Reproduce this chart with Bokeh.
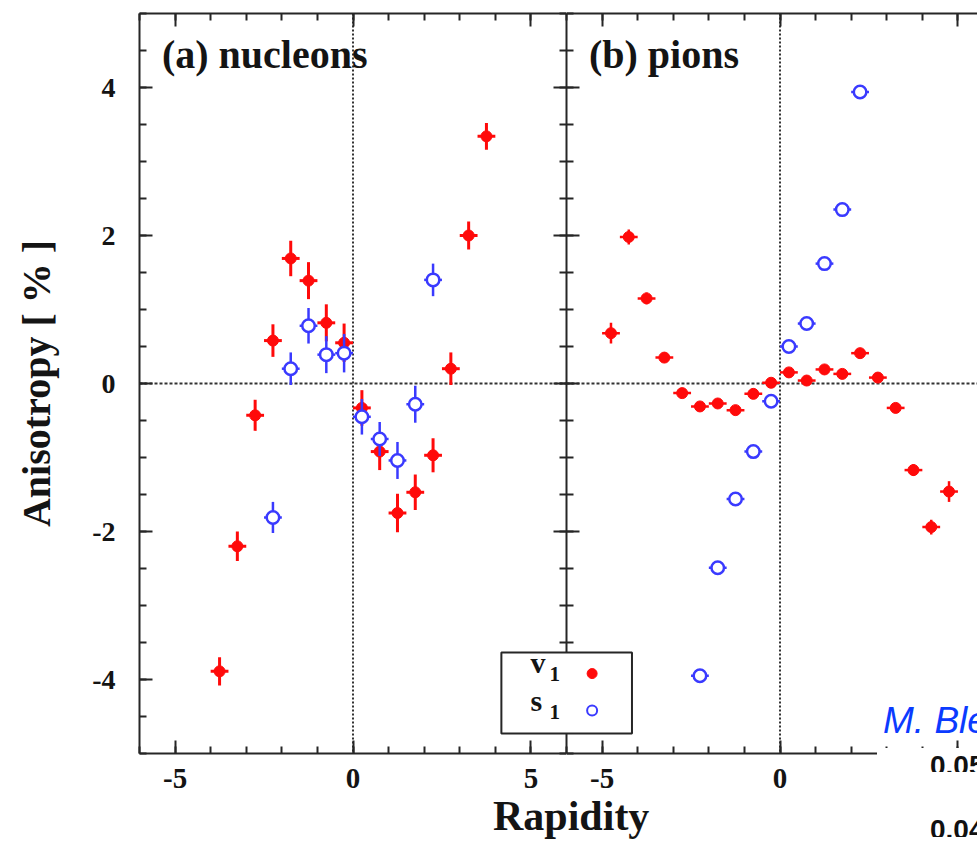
import numpy as np
from bokeh.plotting import figure
from bokeh.layouts import row, column
from bokeh.models import Range1d, LinearAxis, SingleIntervalTicker, Label, Span, Div
from bokeh.embed import file_html
from bokeh.resources import INLINE

# ---------------- data ----------------
nucleon_v1_rapidity = [-3.75, -3.25, -2.75, -2.25, -1.75, -1.25, -0.75, -0.25,
                       0.25, 0.75, 1.25, 1.75, 2.25, 2.75, 3.25, 3.75]
nucleon_v1 = [-3.89, -2.20, -0.43, 0.58, 1.69, 1.39, 0.82, 0.55,
              -0.33, -0.92, -1.75, -1.47, -0.97, 0.20, 2.00, 3.34]
nucleon_v1_err = [0.19, 0.20, 0.21, 0.22, 0.24, 0.25, 0.25, 0.26,
                  0.24, 0.25, 0.26, 0.24, 0.23, 0.22, 0.19, 0.18]

nucleon_s1_rapidity = [-2.25, -1.75, -1.25, -0.75, -0.25, 0.25, 0.75, 1.25, 1.75, 2.25]
nucleon_s1 = [-1.81, 0.20, 0.78, 0.39, 0.41, -0.45, -0.75, -1.04, -0.28, 1.40]
nucleon_s1_err = [0.21, 0.22, 0.24, 0.25, 0.26, 0.24, 0.23, 0.25, 0.25, 0.22]

pion_v1_rapidity = [-4.75, -4.25, -3.75, -3.25, -2.75, -2.25, -1.75, -1.25, -0.75, -0.25,
                    0.25, 0.75, 1.25, 1.75, 2.25, 2.75, 3.25, 3.75, 4.25, 4.75]
pion_v1 = [0.68, 1.98, 1.15, 0.35, -0.13, -0.31, -0.27, -0.36, -0.14, 0.01,
           0.15, 0.04, 0.19, 0.13, 0.41, 0.08, -0.33, -1.17, -1.94, -1.46]
pion_v1_err = [0.14, 0.10, 0.08, 0.06, 0.05, 0.05, 0.05, 0.05, 0.05, 0.05,
               0.05, 0.05, 0.05, 0.05, 0.05, 0.05, 0.06, 0.08, 0.10, 0.14]

pion_s1_rapidity = [-2.25, -1.75, -1.25, -0.75, -0.25, 0.25, 0.75, 1.25, 1.75, 2.25]
pion_s1 = [-3.95, -2.49, -1.56, -0.92, -0.24, 0.50, 0.81, 1.62, 2.35, 3.94]
pion_s1_err = [0.05, 0.05, 0.05, 0.05, 0.05, 0.05, 0.05, 0.05, 0.05, 0.05]

rapidity_bin_half_width = 0.25

x_tick_labels = {-5: "-5", 0: "0", 5: "5"}
y_tick_labels = {-4: "-4", -2: "-2", 0: "0", 2: "2", 4: "4"}

panel_titles = ["(a) nucleons", "(b) pions"]
legend_names = ["v", "s"]
y_axis_title = "Anisotropy [ % ]"
x_axis_title = "Rapidity"
slide_fragments = ["M. Ble", "0.05", "0.04"]

# ---------------- styling ----------------
RED = "#ff0a0a"
BLUE = "#3a3aff"
AX = "#262626"
TXT = "#141414"
SERIF = "Liberation Serif"


def style_axis(ax, show_labels, size="28px"):
    ax.axis_line_color = AX
    ax.axis_line_width = 2
    ax.major_tick_in = 13
    ax.major_tick_out = 0
    ax.minor_tick_in = 7
    ax.minor_tick_out = 0
    ax.major_tick_line_color = AX
    ax.major_tick_line_width = 2
    ax.minor_tick_line_color = AX
    ax.minor_tick_line_width = 2
    if show_labels:
        ax.major_label_text_font = SERIF
        ax.major_label_text_font_style = "bold"
        ax.major_label_text_font_size = size
        ax.major_label_text_color = TXT
    else:
        ax.major_label_text_font_size = "0px"
        ax.major_label_text_color = None
        ax.major_label_standoff = 0


def xticker():
    return SingleIntervalTicker(interval=5, num_minor_ticks=5)


def yticker():
    return SingleIntervalTicker(interval=2, num_minor_ticks=4)


def add_points(p, x, y, err, color, filled, bar_width):
    x = np.asarray(x, float)
    y = np.asarray(y, float)
    e = np.asarray(err, float)
    h = rapidity_bin_half_width
    p.segment(x0=x, y0=y - e, x1=x, y1=y + e, line_color=color, line_width=bar_width)
    p.segment(x0=x - h, y0=y, x1=x + h, y1=y, line_color=color, line_width=bar_width)
    if filled:
        p.scatter(x=x, y=y, size=11, marker="circle", fill_color=color, line_color=color)
    else:
        p.scatter(x=x, y=y, size=12.5, marker="circle", fill_color="white",
                  line_color=color, line_width=2.5)


def zero_lines(p):
    p.add_layout(Span(location=0, dimension="width", line_color="#333333",
                      line_width=2, line_dash="3 2", level="underlay"))
    p.add_layout(Span(location=0, dimension="height", line_color="#333333",
                      line_width=2, line_dash="2 2", level="underlay"))


def title_label(text):
    return Label(x=-5.37, y=4.45, text=text, text_font=SERIF, text_font_style="bold",
                 text_font_size="40px", text_color=TXT, text_baseline="alphabetic")


# ---------------- left panel: nucleons ----------------
p1 = figure(frame_width=427, frame_height=740,
            x_range=Range1d(-6, 6), y_range=Range1d(-5, 5),
            output_backend="svg", toolbar_location=None,
            min_border_left=139, min_border_right=0, min_border_top=13, min_border_bottom=47)
p1.outline_line_color = None
p1.grid.visible = False

p1.xaxis[0].ticker = xticker()
p1.yaxis[0].ticker = yticker()
style_axis(p1.xaxis[0], True, "29px")
style_axis(p1.yaxis[0], True, "28px")
p1.xaxis[0].major_label_overrides = x_tick_labels
p1.yaxis[0].major_label_overrides = y_tick_labels
p1.xaxis[0].major_label_standoff = 15
p1.yaxis[0].major_label_standoff = 24
p1.yaxis[0].axis_label = y_axis_title
p1.yaxis[0].axis_label_text_font = SERIF
p1.yaxis[0].axis_label_text_font_style = "bold"
p1.yaxis[0].axis_label_text_font_size = "40px"
p1.yaxis[0].axis_label_text_color = TXT
p1.yaxis[0].axis_label_standoff = 30

top1 = LinearAxis(ticker=xticker())
style_axis(top1, False)
p1.add_layout(top1, "above")
right1 = LinearAxis(ticker=yticker())
style_axis(right1, False)
p1.add_layout(right1, "right")

zero_lines(p1)
add_points(p1, nucleon_v1_rapidity, nucleon_v1, nucleon_v1_err, RED, True, 3)
add_points(p1, nucleon_s1_rapidity, nucleon_s1, nucleon_s1_err, BLUE, False, 2.5)
p1.add_layout(title_label(panel_titles[0]))

# legend (its box straddles the two panels)
p1.quad(left=[4.17], right=[7.5], top=[-3.635], bottom=[-4.73], fill_color="white",
        line_color=AX, line_width=2, level="annotation")
for name, yb in zip(legend_names, [-3.77, -4.28]):
    p1.add_layout(Label(x=4.99, y=yb, text=name, text_font=SERIF, text_font_style="bold",
                        text_font_size="30px", text_color=TXT, text_baseline="alphabetic",
                        level="overlay"))
    p1.add_layout(Label(x=5.52, y=yb - 0.16, text="1", text_font=SERIF, text_font_style="bold",
                        text_font_size="21px", text_color=TXT, text_baseline="alphabetic",
                        level="overlay"))

# ---------------- right panel: pions ----------------
p2 = figure(frame_width=411, frame_height=740,
            x_range=Range1d(-6, 5.55), y_range=Range1d(-5, 5),
            output_backend="svg", toolbar_location=None,
            min_border_left=0, min_border_right=0, min_border_top=13, min_border_bottom=47)
p2.outline_line_color = None
p2.grid.visible = False

p2.xaxis[0].ticker = xticker()
p2.yaxis[0].ticker = yticker()
style_axis(p2.xaxis[0], True, "29px")
p2.xaxis[0].major_label_overrides = x_tick_labels
p2.xaxis[0].major_label_standoff = 15
style_axis(p2.yaxis[0], False)

top2 = LinearAxis(ticker=xticker())
style_axis(top2, False)
p2.add_layout(top2, "above")

zero_lines(p2)
add_points(p2, pion_v1_rapidity, pion_v1, pion_v1_err, RED, True, 2.5)
add_points(p2, pion_s1_rapidity, pion_s1, pion_s1_err, BLUE, False, 2.5)
p2.add_layout(title_label(panel_titles[1]))

p2.quad(left=[-7.5], right=[-4.16], top=[-3.635], bottom=[-4.73], fill_color="white",
        line_color=AX, line_width=2, level="annotation")
p2.scatter(x=[-5.28], y=[-3.92], size=10, marker="circle", fill_color=RED,
           line_color=RED, level="overlay")
p2.scatter(x=[-5.28], y=[-4.42], size=10, marker="circle", fill_color="white",
           line_color=BLUE, line_width=2, level="overlay")

# fragment of an overlapping slide at the right edge
p2.add_layout(Label(x=2.895, y=-4.55, text=slide_fragments[0], text_font="Liberation Sans",
                    text_font_style="italic", text_font_size="37px", text_color="#0b3bff",
                    text_baseline="alphabetic"))

# ---------------- bottom strip: shared x title + slide fragments ----------------
strip = Div(width=977, height=41, margin=(0, 0, 0, 0), text=(
    '<div style="position:relative;width:977px;height:41px;">'
    '<div style="position:absolute;left:877px;top:-52px;width:100px;height:52px;'
    'background:#ffffff;"></div>'
    '<span style="position:absolute;left:930px;top:-54px;width:47px;height:26px;'
    "overflow:hidden;white-space:nowrap;font-family:'Liberation Sans';font-weight:bold;"
    'font-size:28px;color:#111111;">' + slide_fragments[1] + '</span>'
    '<span style="position:absolute;left:493px;top:-4px;white-space:nowrap;'
    "font-family:'Liberation Serif';font-weight:bold;font-size:42px;line-height:40px;"
    'color:#141414;">' + x_axis_title + '</span>'
    '<span style="position:absolute;left:930px;top:10px;width:47px;height:27px;'
    "overflow:hidden;white-space:nowrap;font-family:'Liberation Sans';font-weight:bold;"
    'font-size:28px;color:#111111;">' + slide_fragments[2] + '</span>'
    '</div>'))

layout = column(row(p1, p2, spacing=0), strip, spacing=0)

with open("out.html", "w") as f:
    f.write(file_html(layout, INLINE))
